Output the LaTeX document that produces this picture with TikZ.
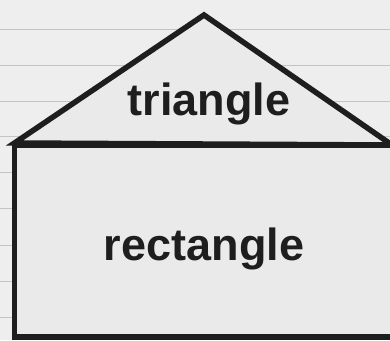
\documentclass[tikz,border=0pt]{standalone}
\usepackage{fontspec}
\setmainfont{Liberation Sans}
\definecolor{paper}{HTML}{EEEEEE}
\definecolor{shapefill}{HTML}{EAEAEA}
\definecolor{ruling}{HTML}{C4C4C4}
\definecolor{ink}{HTML}{1E1E1E}
\begin{document}
\begin{tikzpicture}[x=1pt,y=-1pt,
  shapeline/.style={draw=ink,line width=5.5pt,line join=miter,fill=shapefill},
  label/.style={anchor=base,text=ink,font=\fontsize{45}{50}\selectfont\bfseries,inner sep=0pt}]
\useasboundingbox (0,0) rectangle (390,340);
\fill[paper] (0,0) rectangle (390,340);
\foreach \y in {29,65,101,136,172,208,245,281,317}
  \draw[ruling,line width=0.8pt] (0,\y) -- (390,\y);
\path[shapeline] (14.5,145) -- (14.5,337) -- (395,337) -- (395,145) -- cycle;
\path[shapeline] (14.5,143) -- (204,15) -- (392,145) -- cycle;
\node[label] (tri) at (209,115) {triangle};
\node[label] (rect) at (204,260) {rectangle};
\end{tikzpicture}
\end{document}
